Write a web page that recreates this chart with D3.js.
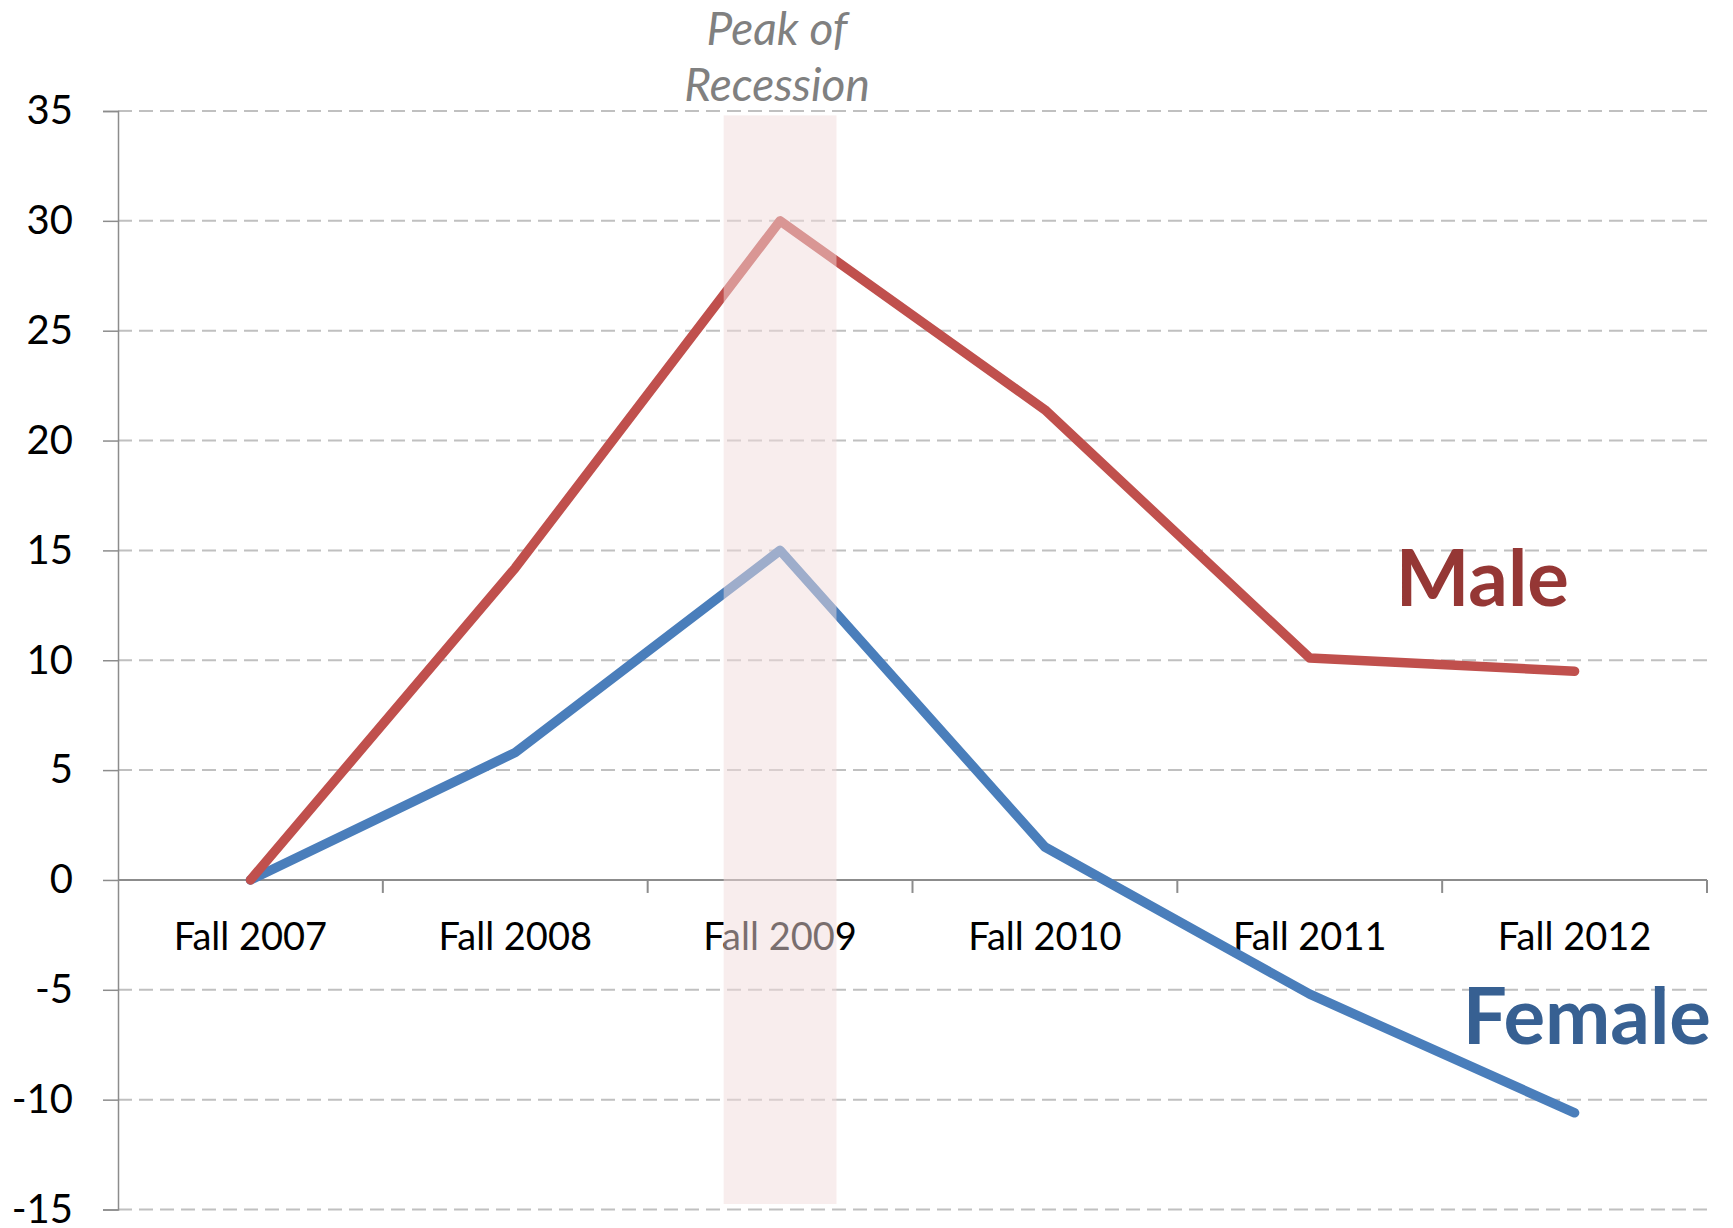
<!DOCTYPE html>
<html>
<head>
<meta charset="utf-8">
<script src="https://cdn.jsdelivr.net/npm/d3@7"></script>
<style>
  html, body { margin: 0; padding: 0; background: #fff; }
  svg { display: block; }
  text { font-family: Lato, "Noto Sans", sans-serif; }
</style>
</head>
<body>
<svg id="chart" width="1733" height="1228"></svg>
<script>
// ---- data ----
const categories = ["Fall 2007", "Fall 2008", "Fall 2009", "Fall 2010", "Fall 2011", "Fall 2012"];
const maleValues = [0, 14.2, 30.0, 21.4, 10.1, 9.5];
const femaleValues = [0, 5.8, 15.0, 1.5, -5.2, -10.6];
const yTickValues = [-15, -10, -5, 0, 5, 10, 15, 20, 25, 30, 35];
const highlightCategory = "Fall 2009";
const highlightRange = [-14.75, 34.8];

// ---- layout ----
const W = 1733, H = 1228;
const mLeft = 118, mRight = 1707, mTop = 111, mBottom = 1209.5;

const svg = d3.select("#chart");

const x = d3.scaleBand().domain(categories).range([mLeft, mRight]).padding(0);
const xc = c => x(c) + x.bandwidth() / 2;
const y = d3.scaleLinear().domain([-15, 35]).range([mBottom, mTop]);

// gridlines (dashed), except zero line
svg.append("g").selectAll("line")
  .data(yTickValues.filter(v => v !== 0))
  .join("line")
  .attr("x1", mLeft).attr("x2", mRight)
  .attr("y1", d => y(d)).attr("y2", d => y(d))
  .attr("stroke", "#c0c0c0")
  .attr("stroke-width", 2)
  .attr("stroke-dasharray", "14,7");

// y axis
const yAxis = d3.axisLeft(y).tickValues(yTickValues).tickSize(15).tickPadding(30).tickFormat(d => String(d));
const gy = svg.append("g").attr("transform", `translate(${mLeft},0)`).call(yAxis);
gy.select(".domain").attr("stroke", "#8c8c8c").attr("stroke-width", 1.5);
gy.selectAll(".tick line").attr("stroke", "#8c8c8c").attr("stroke-width", 1.5);
gy.selectAll(".tick text").attr("font-size", 40).attr("fill", "#000")
  .style("font-family", "Lato, 'Noto Sans', sans-serif");

// x axis at zero
const gx = svg.append("g").attr("transform", `translate(0,${y(0)})`);
gx.append("line").attr("x1", mLeft).attr("x2", mRight).attr("y1", 0).attr("y2", 0)
  .attr("stroke", "#8c8c8c").attr("stroke-width", 2);
const boundaries = categories.slice(1).map(c => x(c)).concat([mRight]);
gx.selectAll("line.tk").data(boundaries).join("line").attr("class", "tk")
  .attr("x1", d => d).attr("x2", d => d).attr("y1", 0).attr("y2", 13)
  .attr("stroke", "#8c8c8c").attr("stroke-width", 2);
gx.selectAll("text").data(categories).join("text")
  .attr("x", d => xc(d)).attr("y", 70)
  .attr("text-anchor", "middle")
  .attr("font-size", 38).attr("fill", "#000")
  .text(d => d);

// lines
const line = d3.line().x((d, i) => xc(categories[i])).y(d => y(d));
svg.append("path").datum(femaleValues).attr("d", line)
  .attr("fill", "none").attr("stroke", "#4a7ebb").attr("stroke-width", 9.5)
  .attr("stroke-linecap", "round").attr("stroke-linejoin", "round");
svg.append("path").datum(maleValues).attr("d", line)
  .attr("fill", "none").attr("stroke", "#c0504d").attr("stroke-width", 9.5)
  .attr("stroke-linecap", "round").attr("stroke-linejoin", "round");

// highlight band (semi-transparent, on top)
const bandHalf = x.bandwidth() * 0.213;
svg.append("rect")
  .attr("x", xc(highlightCategory) - bandHalf)
  .attr("width", bandHalf * 2)
  .attr("y", y(highlightRange[1]))
  .attr("height", y(highlightRange[0]) - y(highlightRange[1]))
  .attr("fill", "#f2dcdb").attr("opacity", 0.5);

// annotation
const ann = svg.append("text").attr("text-anchor", "middle")
  .attr("font-size", 46).attr("font-style", "italic").attr("fill", "#808080");
ann.append("tspan").attr("x", xc(highlightCategory) - 3).attr("y", 45).text("Peak of");
ann.append("tspan").attr("x", xc(highlightCategory) - 3).attr("y", 101).text("Recession");

// series labels
svg.append("text").attr("x", 1569).attr("y", y(12.45))
  .attr("text-anchor", "end").attr("font-size", 78).attr("font-weight", "bold")
  .attr("fill", "#953735").text("Male");
svg.append("text").attr("x", 1711).attr("y", y(-7.45))
  .attr("text-anchor", "end").attr("font-size", 78).attr("font-weight", "bold")
  .attr("fill", "#376092").text("Female");
</script>
</body>
</html>
